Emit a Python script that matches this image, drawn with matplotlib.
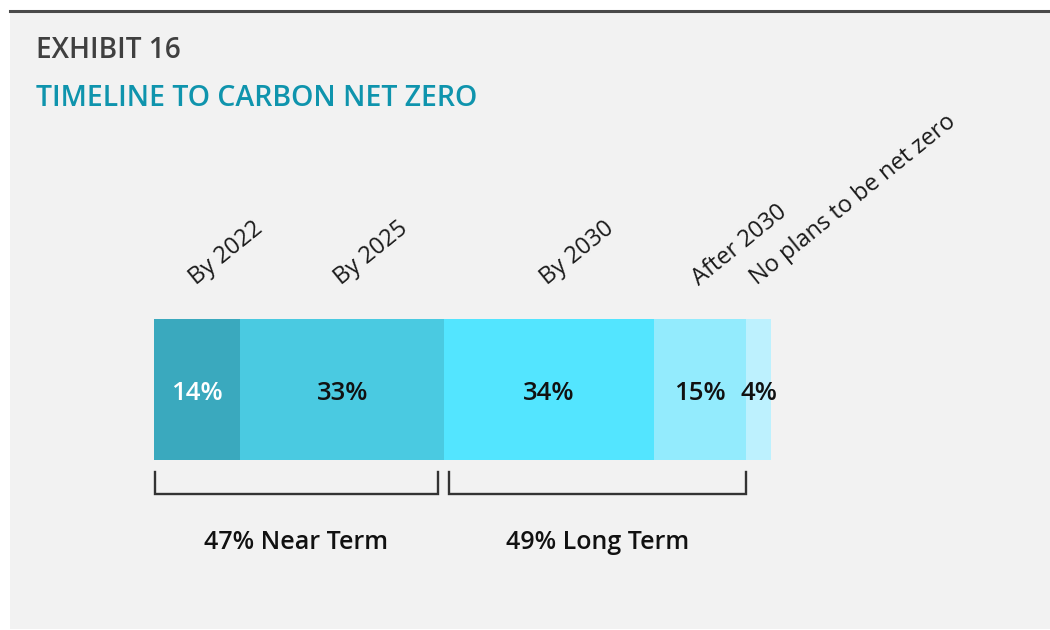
import matplotlib
matplotlib.use("Agg")
import matplotlib.pyplot as plt
from matplotlib.patches import Rectangle
from matplotlib.lines import Line2D

plt.rcParams['font.family'] = ['Open Sans', 'DejaVu Sans']

# Data
categories = ["By 2022", "By 2025", "By 2030", "After 2030", "No plans to be net zero"]
shares = [14, 33, 34, 15, 4]
value_labels = ["14%", "33%", "34%", "15%", "4%"]
group_names = ["47% Near Term", "49% Long Term"]
group_members = [[0, 1], [2, 3]]

seg_colors = ["#3aa9be", "#4acae1", "#53e5ff", "#93ebfd", "#bdf1fe"]
label_colors = ["white", "#111111", "#111111", "#111111", "#111111"]

W, H = 1050, 630
fig = plt.figure(figsize=(W / 100, H / 100), dpi=100)
fig.patch.set_facecolor("white")

# Panel background and top rule
fig.patches.append(Rectangle((10 / W, 1 / H), 1 - 10 / W, (H - 12 - 1) / H,
                             transform=fig.transFigure, facecolor="#f2f2f2",
                             edgecolor="none", zorder=-10))
fig.lines.append(Line2D([10 / W, 1], [1 - 11 / H, 1 - 11 / H],
                        transform=fig.transFigure, color="#4a4a4a", lw=2.2,
                        zorder=-5))

fig.text(36 / W, 1 - 51 / H, "EXHIBIT 16", fontsize=20.2, fontweight="semibold",
         color="#404040", va="center", ha="left")
fig.text(36 / W, 1 - 98 / H, "TIMELINE TO CARBON NET ZERO", fontsize=20.5,
         fontweight="semibold", color="#0f94ad", va="center", ha="left")

# Axes that hold the stacked bar
ax = fig.add_axes([154 / W, (H - 460) / H, 617 / W, 141 / H])
ax.set_xlim(0, 100)
ax.set_ylim(0, 1)
ax.axis("off")

left = 0
starts = []
for share, col, lab, lcol, cat in zip(shares, seg_colors, value_labels, label_colors, categories):
    starts.append(left)
    ax.barh(0.5, share, left=left, height=1.0, color=col, edgecolor="none")
    cx = left + share / 2
    ax.text(cx, 0.475, lab, ha="center", va="center", fontsize=18.5,
            fontweight="semibold", color=lcol)
    ax.annotate(cat, xy=(cx, 1.0), xytext=(-1, 24), textcoords="offset points",
                rotation=39, rotation_mode="anchor", ha="left", va="baseline",
                fontsize=17, color="#1a1a1a", annotation_clip=False)
    left += share

# Group brackets beneath the bar
inner_gap = (0.97, 0.65)
for gi, (name, members) in enumerate(zip(group_names, group_members)):
    x0 = starts[members[0]]
    x1 = starts[members[-1]] + shares[members[-1]]
    if gi > 0:
        x0 += inner_gap[1]
    if gi < len(group_names) - 1:
        x1 -= inner_gap[0]
    x0 += 0.15
    y_top, y_bot = -0.085, -0.24
    ax.plot([x0, x0, x1, x1], [y_top, y_bot, y_bot, y_top], color="#333333",
            lw=1.7, clip_on=False, solid_joinstyle="miter")
    ax.text((x0 + x1) / 2, -0.585, name, ha="center", va="center", fontsize=18,
            fontweight="semibold", color="#111111")

fig.savefig("out.png", dpi=100, facecolor=fig.get_facecolor())
